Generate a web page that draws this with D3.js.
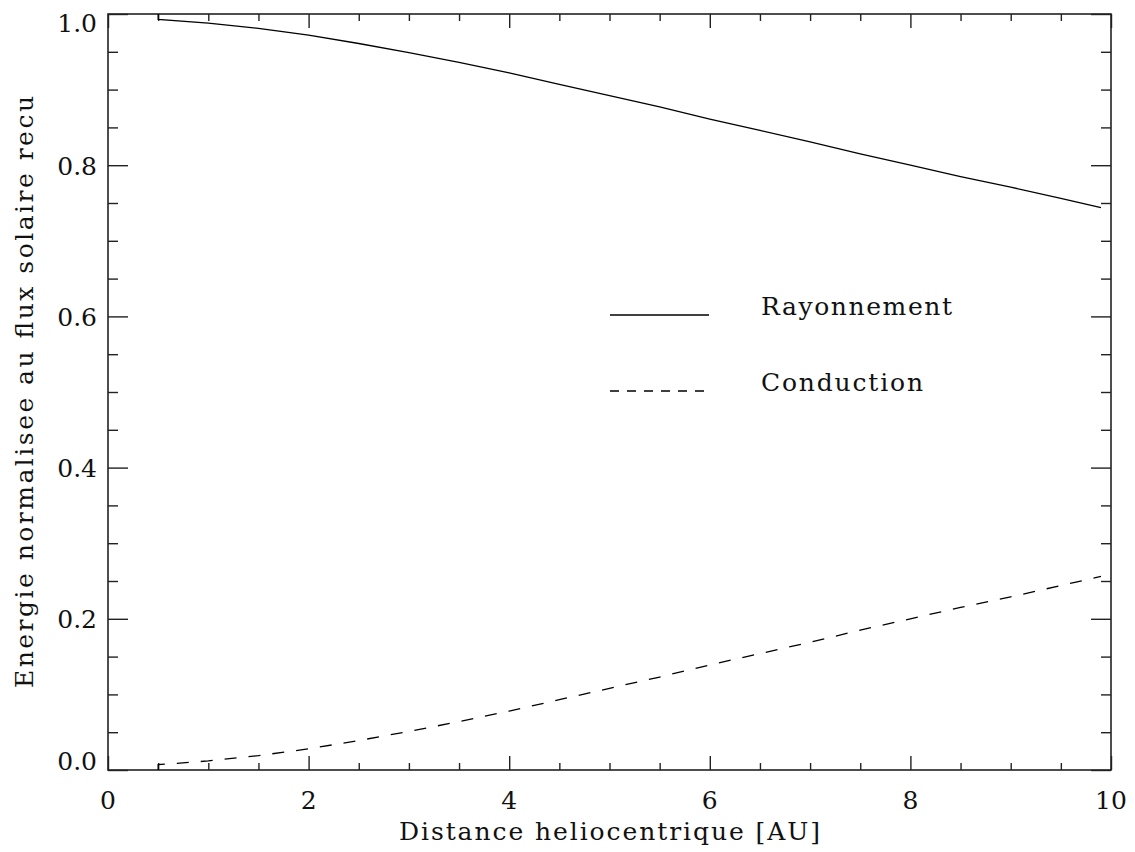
<!DOCTYPE html>
<html>
<head>
<meta charset="utf-8">
<script src="https://cdn.jsdelivr.net/npm/d3@7"></script>
<style>
  body { margin: 0; background: #fff; }
  text { font-family: "DejaVu Serif", serif; fill: #111; }
</style>
</head>
<body>
<svg id="chart" width="1135" height="852"></svg>
<script>
// Heliocentric distance [AU]
const distance = [0.5, 0.5, 1.0, 1.5, 2.0, 2.5, 3.0, 3.5, 4.0, 4.5, 5.0,
                  5.5, 6.0, 6.5, 7.0, 7.5, 8.0, 8.5, 9.0, 9.5, 9.9];
// Fraction of received solar flux lost by radiation
const rayonnement = [1.000, 0.993, 0.988, 0.981, 0.972, 0.961, 0.949, 0.936, 0.922, 0.907, 0.892,
                     0.877, 0.861, 0.846, 0.831, 0.815, 0.800, 0.785, 0.771, 0.756, 0.744];
// Fraction of received solar flux carried away by conduction
const conduction = [0.000, 0.007, 0.012, 0.019, 0.028, 0.039, 0.051, 0.064, 0.078, 0.093, 0.108,
                    0.123, 0.139, 0.154, 0.169, 0.185, 0.200, 0.215, 0.229, 0.244, 0.256];

const seriesNames = ["Rayonnement", "Conduction"];
const xTickValues = [0, 2, 4, 6, 8, 10];
const xTickLabels = ["0", "2", "4", "6", "8", "10"];
const yTickValues = [0.0, 0.2, 0.4, 0.6, 0.8, 1.0];
const yTickLabels = ["0.0", "0.2", "0.4", "0.6", "0.8", "1.0"];
const xMinorStep = 0.5;
const yMinorStep = 0.05;
const xTitle = "Distance heliocentrique [AU]";
const yTitle = "Energie normalisee au flux solaire recu";

const svg = d3.select("#chart");
const plotLeft = 108, plotRight = 1111, plotTop = 14, plotBottom = 770;
const ink = "#222";

const x = d3.scaleLinear().domain([0, 10]).range([plotLeft, plotRight]);
const y = d3.scaleLinear().domain([0, 1]).range([plotBottom, plotTop]);

const xMinor = d3.range(0, 10 + 1e-9, xMinorStep).filter(v => !xTickValues.some(t => Math.abs(t - v) < 1e-9));
const yMinor = d3.range(0, 1 + 1e-9, yMinorStep).filter(v => !yTickValues.some(t => Math.abs(t - v) < 1e-9));

// Inward ticks on all four sides: major ticks twice the length of minor ones
function tickAxis(axisFn, scale, values, size, transform) {
  const g = svg.append("g")
    .attr("transform", transform)
    .call(axisFn(scale).tickValues(values).tickSizeInner(size).tickSizeOuter(0).tickFormat(""));
  g.select(".domain").remove();
  g.selectAll(".tick line").attr("stroke", ink).attr("stroke-width", 1.4);
  g.selectAll(".tick text").remove();
  return g;
}
tickAxis(d3.axisBottom, x, xTickValues, -14, `translate(0,${plotBottom})`);
tickAxis(d3.axisBottom, x, xMinor, -7, `translate(0,${plotBottom})`);
tickAxis(d3.axisTop, x, xTickValues, -14, `translate(0,${plotTop})`);
tickAxis(d3.axisTop, x, xMinor, -7, `translate(0,${plotTop})`);
tickAxis(d3.axisLeft, y, yTickValues, -20, `translate(${plotLeft},0)`);
tickAxis(d3.axisLeft, y, yMinor, -10, `translate(${plotLeft},0)`);
tickAxis(d3.axisRight, y, yTickValues, -20, `translate(${plotRight},0)`);
tickAxis(d3.axisRight, y, yMinor, -10, `translate(${plotRight},0)`);

// Frame
svg.append("rect")
  .attr("x", plotLeft).attr("y", plotTop)
  .attr("width", plotRight - plotLeft).attr("height", plotBottom - plotTop)
  .attr("fill", "none").attr("stroke", ink).attr("stroke-width", 1.6);

// Tick labels
svg.append("g").selectAll("text")
  .data(xTickValues)
  .join("text")
  .attr("x", d => x(d))
  .attr("y", plotBottom + 39)
  .attr("text-anchor", "middle")
  .attr("font-size", 25)
  .text((d, i) => xTickLabels[i]);

svg.append("g").selectAll("text")
  .data(yTickValues)
  .join("text")
  .attr("x", plotLeft - 11)
  .attr("y", d => {
    if (d === 0) return y(d);            // lowest label sits on the axis
    if (d === 1) return y(d) + 18;       // highest label hangs from the top edge
    return y(d) + 9.5;
  })
  .attr("text-anchor", "end")
  .attr("font-size", 25)
  .text((d, i) => yTickLabels[i]);

// Axis titles
svg.append("text")
  .attr("x", (plotLeft + plotRight) / 2)
  .attr("y", 840)
  .attr("text-anchor", "middle")
  .attr("font-size", 25)
  .attr("textLength", 421)
  .attr("lengthAdjust", "spacing")
  .text(xTitle);

svg.append("text")
  .attr("transform", `translate(33,${(plotTop + plotBottom) / 2}) rotate(-90)`)
  .attr("text-anchor", "middle")
  .attr("font-size", 25)
  .attr("textLength", 592)
  .attr("lengthAdjust", "spacing")
  .text(yTitle);

// Curves
const line = d3.line().x((d, i) => x(distance[i])).y(d => y(d));

svg.append("path")
  .datum(rayonnement)
  .attr("d", line)
  .attr("fill", "none")
  .attr("stroke", "#000")
  .attr("stroke-width", 1.3);

svg.append("path")
  .datum(conduction)
  .attr("d", line)
  .attr("fill", "none")
  .attr("stroke", "#000")
  .attr("stroke-width", 1.3)
  .attr("stroke-dasharray", "12,12");

// Legend
const legend = svg.append("g");
const legendRows = [
  { name: seriesNames[0], dash: null, yPos: 315, width: 191 },
  { name: seriesNames[1], dash: "9,8", yPos: 391, width: 162 }
];
legendRows.forEach(r => {
  legend.append("line")
    .attr("x1", 610).attr("x2", 709)
    .attr("y1", r.yPos).attr("y2", r.yPos)
    .attr("stroke", "#000").attr("stroke-width", 1.3)
    .attr("stroke-dasharray", r.dash);
  legend.append("text")
    .attr("x", 761).attr("y", r.yPos)
    .attr("font-size", 25)
    .attr("textLength", r.width)
    .attr("lengthAdjust", "spacing")
    .text(r.name);
});
</script>
</body>
</html>
